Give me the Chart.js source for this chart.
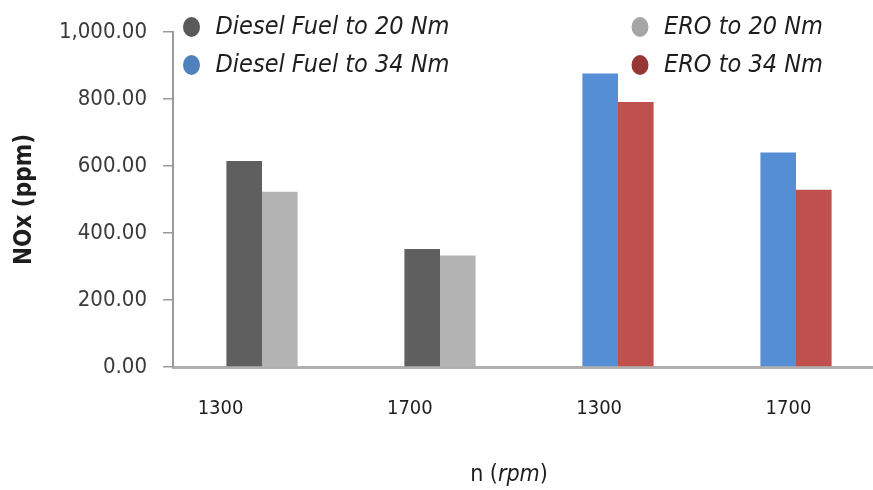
<!DOCTYPE html>
<html>
<head>
    <title>NOx (ppm)</title>
    <script src="https://cdn.jsdelivr.net/npm/chart.js"></script>
    <style>
        html, body { margin: 0; padding: 0; background: #fff; overflow: hidden; }
        #wrap { width: 886px; height: 490px; }
    </style>
</head>
<body>
    <div id="wrap">
        <canvas id="myChart" width="886" height="490"></canvas>
    </div>

    <script>
      // data
      const categories = ["1300", "1700", "1300", "1700"];
      const seriesNames = ["Diesel Fuel to 20 Nm", "ERO to 20 Nm", "Diesel Fuel to 34 Nm", "ERO to 34 Nm"];
      const diesel20 = [615, 352, null, null];
      const ero20 = [523, 333, null, null];
      const diesel34 = [null, null, 876, 640];
      const ero34 = [null, null, 791, 529];
      const yTicks = [0, 200, 400, 600, 800, 1000];

      const barColors = ["#5f5f5f", "#b3b3b3", "#558ed5", "#c0504d"];
      const markerColors = ["#595959", "#a6a6a6", "#4f81bd", "#953735"];
      const font = "'DejaVu Sans Condensed', 'Liberation Sans Narrow', 'Liberation Sans', sans-serif";

      // legend drawn as a 2x2 grid over the plot
      const gridLegend = {
        id: "gridLegend",
        afterDraw(chart) {
          const c = chart.ctx;
          const left = chart.chartArea.left;
          const cols = [left + 18.5, left + 467];
          const rows = [27, 65];
          c.save();
          chart.data.datasets.forEach((ds, i) => {
            const x = cols[i % 2];
            const y = rows[Math.floor(i / 2)];
            c.fillStyle = markerColors[i];
            c.beginPath();
            c.ellipse(x, y, 8.5, 10, 0, 0, Math.PI * 2);
            c.fill();
            c.fillStyle = "#1e1e1e";
            c.font = "italic 25px " + font;
            c.textAlign = "left";
            c.textBaseline = "middle";
            c.fillText(ds.label, x + 24, y);
          });
          c.restore();
        }
      };

      // x axis title with italic unit
      const xTitle = {
        id: "xTitle",
        afterDraw(chart) {
          const c = chart.ctx;
          const parts = [["n (", "normal"], ["rpm", "italic"], [")", "normal"]];
          c.save();
          c.fillStyle = "#1e1e1e";
          c.textBaseline = "middle";
          c.textAlign = "left";
          let total = 0;
          parts.forEach(p => { c.font = p[1] + " 23px " + font; total += c.measureText(p[0]).width; });
          let x = 509 - total / 2;
          parts.forEach(p => {
            c.font = p[1] + " 23px " + font;
            c.fillText(p[0], x, 475);
            x += c.measureText(p[0]).width;
          });
          c.restore();
        }
      };

      const ctx = document.getElementById("myChart");
      const mychart = new Chart(ctx, {
        type: "bar",
        data: {
          labels: categories,
          datasets: [
            { label: seriesNames[0], data: diesel20, backgroundColor: barColors[0], stack: "diesel" },
            { label: seriesNames[1], data: ero20, backgroundColor: barColors[1], stack: "ero" },
            { label: seriesNames[2], data: diesel34, backgroundColor: barColors[2], stack: "diesel" },
            { label: seriesNames[3], data: ero34, backgroundColor: barColors[3], stack: "ero" },
          ],
        },
        options: {
          responsive: false,
          animation: false,
          devicePixelRatio: 1,
          categoryPercentage: 0.4,
          barPercentage: 1,
          layout: { padding: { top: 32, right: 1, left: 0, bottom: 0 } },
          plugins: {
            legend: { display: false },
            tooltip: { enabled: false },
          },
          scales: {
            x: {
              stacked: true,
              ticks: { display: false },
              grid: { display: false },
              border: { color: "#b0b0b0", width: 3 },
              afterFit: (s) => { s.height = 0; },
            },
            // tick labels sit a little off the bar groups in the original
            xl: {
              type: "linear",
              position: "bottom",
              weight: 1,
              offset: false,
              min: 0.749,
              max: 4.51,
              grid: { display: false, drawTicks: false, offset: false },
              border: { display: false },
              afterBuildTicks: (s) => { s.ticks = categories.map((_, i) => ({ value: i + 1 })); },
              ticks: {
                autoSkip: false,
                maxRotation: 0,
                padding: 30,
                color: "#1e1e1e",
                font: { family: font, size: 20 },
                callback: (v) => categories[v - 1],
              },
              afterFit: (s) => { s.height = 123; },
            },
            y: {
              stacked: true,
              min: 0,
              max: 1000,
              afterBuildTicks: (s) => { s.ticks = yTicks.map(v => ({ value: v })); },
              ticks: {
                padding: 16,
                color: "#3a3a3a",
                font: { family: font, size: 22 },
                callback: (v) => v.toLocaleString("en-US", { minimumFractionDigits: 2, maximumFractionDigits: 2 }),
              },
              grid: { drawOnChartArea: false, drawTicks: true, tickLength: 10, color: "#9a9a9a", lineWidth: 1.5 },
              border: { color: "#9a9a9a", width: 2 },
              title: {
                display: true,
                text: "NOx (ppm)",
                color: "#1e1e1e",
                font: { family: font, size: 24, weight: "bold" },
                padding: { top: 10, bottom: 0 },
              },
              afterFit: (s) => { s.width = 173; },
            },
          },
        },
        plugins: [gridLegend, xTitle],
      });
    </script>
</body>
</html>
